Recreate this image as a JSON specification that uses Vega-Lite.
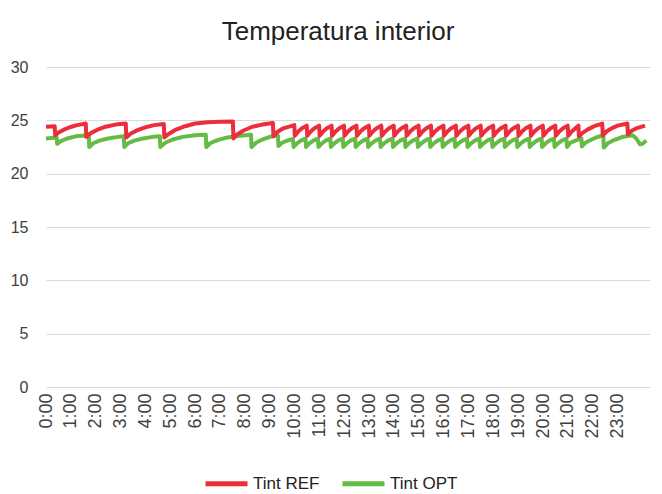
{
  "$schema": "https://vega.github.io/schema/vega-lite/v6.json",
  "width": 604,
  "height": 320,
  "autosize": {"type": "none"},
  "padding": {"left": 46, "top": 67, "right": 12, "bottom": 107},
  "background": "white",
  "title": {"text": "Temperatura interior", "fontSize": 26, "font": "Liberation Sans", "fontWeight": "normal", "color": "#222222", "anchor": "middle", "offset": 14, "dx": -10},
  "config": {
    "view": {"stroke": null},
    "axis": {"labelFont": "Liberation Sans", "labelColor": "#404040", "domain": false, "ticks": false, "title": null}
  },
  "datasets": {
    "ref": [
      {"h":0,"v":24.4},{"h":0.35,"v":24.45},{"h":0.37,"v":23.6},{"h":0.5,"v":23.85},{"h":0.7,"v":24.1},{"h":0.95,"v":24.35},{"h":1.25,"v":24.55},{"h":1.6,"v":24.7},
      {"h":1.62,"v":23.45},{"h":1.8,"v":23.8},{"h":2.05,"v":24.1},{"h":2.4,"v":24.4},{"h":2.8,"v":24.6},{"h":3.21,"v":24.7},
      {"h":3.23,"v":23.4},{"h":3.4,"v":23.75},{"h":3.65,"v":24.05},{"h":4.0,"v":24.35},{"h":4.35,"v":24.55},{"h":4.74,"v":24.65},
      {"h":4.76,"v":23.4},{"h":4.95,"v":23.75},{"h":5.2,"v":24.1},{"h":5.6,"v":24.45},{"h":6.0,"v":24.7},{"h":6.5,"v":24.82},{"h":7.0,"v":24.87},{"h":7.52,"v":24.9},
      {"h":7.54,"v":23.3},{"h":7.7,"v":23.7},{"h":7.95,"v":24.05},{"h":8.3,"v":24.4},{"h":8.7,"v":24.6},{"h":9.13,"v":24.75},
      {"h":9.15,"v":23.5},{"h":9.3,"v":23.9},{"h":9.55,"v":24.25},{"h":9.99,"v":24.55},
      {"h":10.01,"v":23.55},{"h":10.15,"v":23.95},{"h":10.3,"v":24.25},{"h":10.49,"v":24.5},
      {"h":10.51,"v":23.55},{"h":10.65,"v":23.95},{"h":10.8,"v":24.25},{"h":10.99,"v":24.5},
      {"h":11.01,"v":23.55},{"h":11.15,"v":23.95},{"h":11.3,"v":24.25},{"h":11.49,"v":24.5},
      {"h":11.51,"v":23.55},{"h":11.65,"v":23.95},{"h":11.8,"v":24.25},{"h":11.99,"v":24.5},
      {"h":12.01,"v":23.55},{"h":12.15,"v":23.95},{"h":12.3,"v":24.25},{"h":12.49,"v":24.5},
      {"h":12.51,"v":23.55},{"h":12.65,"v":23.95},{"h":12.8,"v":24.25},{"h":12.99,"v":24.5},
      {"h":13.01,"v":23.55},{"h":13.15,"v":23.95},{"h":13.3,"v":24.25},{"h":13.49,"v":24.5},
      {"h":13.51,"v":23.55},{"h":13.65,"v":23.95},{"h":13.8,"v":24.25},{"h":13.99,"v":24.5},
      {"h":14.01,"v":23.55},{"h":14.15,"v":23.95},{"h":14.3,"v":24.25},{"h":14.49,"v":24.5},
      {"h":14.51,"v":23.55},{"h":14.65,"v":23.95},{"h":14.8,"v":24.25},{"h":14.99,"v":24.5},
      {"h":15.01,"v":23.55},{"h":15.15,"v":23.95},{"h":15.3,"v":24.25},{"h":15.49,"v":24.5},
      {"h":15.51,"v":23.55},{"h":15.65,"v":23.95},{"h":15.8,"v":24.25},{"h":15.99,"v":24.5},
      {"h":16.01,"v":23.55},{"h":16.15,"v":23.95},{"h":16.3,"v":24.25},{"h":16.49,"v":24.5},
      {"h":16.51,"v":23.55},{"h":16.65,"v":23.95},{"h":16.8,"v":24.25},{"h":16.99,"v":24.5},
      {"h":17.01,"v":23.55},{"h":17.15,"v":23.95},{"h":17.3,"v":24.25},{"h":17.49,"v":24.5},
      {"h":17.51,"v":23.55},{"h":17.65,"v":23.95},{"h":17.8,"v":24.25},{"h":17.99,"v":24.5},
      {"h":18.01,"v":23.55},{"h":18.15,"v":23.95},{"h":18.3,"v":24.25},{"h":18.49,"v":24.5},
      {"h":18.51,"v":23.55},{"h":18.65,"v":23.95},{"h":18.8,"v":24.25},{"h":18.99,"v":24.5},
      {"h":19.01,"v":23.55},{"h":19.15,"v":23.95},{"h":19.3,"v":24.25},{"h":19.49,"v":24.5},
      {"h":19.51,"v":23.55},{"h":19.65,"v":23.95},{"h":19.8,"v":24.25},{"h":19.99,"v":24.5},
      {"h":20.01,"v":23.55},{"h":20.15,"v":23.95},{"h":20.3,"v":24.25},{"h":20.49,"v":24.5},
      {"h":20.51,"v":23.55},{"h":20.65,"v":23.95},{"h":20.8,"v":24.25},{"h":20.99,"v":24.5},
      {"h":21.01,"v":23.55},{"h":21.15,"v":23.95},{"h":21.3,"v":24.25},{"h":21.42,"v":24.5},
      {"h":21.44,"v":23.5},{"h":21.6,"v":23.85},{"h":21.8,"v":24.15},{"h":22.05,"v":24.45},{"h":22.38,"v":24.7},
      {"h":22.4,"v":23.6},{"h":22.55,"v":23.95},{"h":22.75,"v":24.25},{"h":23.0,"v":24.5},{"h":23.39,"v":24.7},
      {"h":23.41,"v":23.7},{"h":23.55,"v":24.0},{"h":23.75,"v":24.25},{"h":24.1,"v":24.5}
    ],
    "opt": [
      {"h":0,"v":23.3},{"h":0.43,"v":23.4},{"h":0.45,"v":22.8},{"h":0.6,"v":23.05},{"h":0.85,"v":23.3},{"h":1.2,"v":23.5},{"h":1.72,"v":23.6},
      {"h":1.74,"v":22.5},{"h":1.9,"v":22.85},{"h":2.15,"v":23.1},{"h":2.5,"v":23.3},{"h":2.9,"v":23.45},{"h":3.13,"v":23.5},
      {"h":3.15,"v":22.5},{"h":3.3,"v":22.85},{"h":3.55,"v":23.1},{"h":3.9,"v":23.3},{"h":4.3,"v":23.45},{"h":4.58,"v":23.5},
      {"h":4.6,"v":22.5},{"h":4.8,"v":22.9},{"h":5.1,"v":23.2},{"h":5.5,"v":23.45},{"h":6.0,"v":23.6},{"h":6.43,"v":23.65},
      {"h":6.45,"v":22.5},{"h":6.6,"v":22.85},{"h":6.9,"v":23.15},{"h":7.3,"v":23.4},{"h":7.8,"v":23.55},{"h":8.25,"v":23.65},
      {"h":8.27,"v":22.5},{"h":8.45,"v":22.9},{"h":8.7,"v":23.2},{"h":9.0,"v":23.45},{"h":9.33,"v":23.6},
      {"h":9.35,"v":22.6},{"h":9.5,"v":22.9},{"h":9.7,"v":23.1},{"h":9.94,"v":23.25},
      {"h":9.96,"v":22.5},{"h":10.1,"v":22.85},{"h":10.25,"v":23.1},{"h":10.44,"v":23.3},
      {"h":10.46,"v":22.5},{"h":10.6,"v":22.85},{"h":10.75,"v":23.1},{"h":10.94,"v":23.3},
      {"h":10.96,"v":22.5},{"h":11.1,"v":22.85},{"h":11.25,"v":23.1},{"h":11.44,"v":23.3},
      {"h":11.46,"v":22.5},{"h":11.6,"v":22.85},{"h":11.75,"v":23.1},{"h":11.94,"v":23.3},
      {"h":11.96,"v":22.5},{"h":12.1,"v":22.85},{"h":12.25,"v":23.1},{"h":12.44,"v":23.3},
      {"h":12.46,"v":22.5},{"h":12.6,"v":22.85},{"h":12.75,"v":23.1},{"h":12.94,"v":23.3},
      {"h":12.96,"v":22.5},{"h":13.1,"v":22.85},{"h":13.25,"v":23.1},{"h":13.44,"v":23.3},
      {"h":13.46,"v":22.5},{"h":13.6,"v":22.85},{"h":13.75,"v":23.1},{"h":13.94,"v":23.3},
      {"h":13.96,"v":22.5},{"h":14.1,"v":22.85},{"h":14.25,"v":23.1},{"h":14.44,"v":23.3},
      {"h":14.46,"v":22.5},{"h":14.6,"v":22.85},{"h":14.75,"v":23.1},{"h":14.94,"v":23.3},
      {"h":14.96,"v":22.5},{"h":15.1,"v":22.85},{"h":15.25,"v":23.1},{"h":15.44,"v":23.3},
      {"h":15.46,"v":22.5},{"h":15.6,"v":22.85},{"h":15.75,"v":23.1},{"h":15.94,"v":23.3},
      {"h":15.96,"v":22.5},{"h":16.1,"v":22.85},{"h":16.25,"v":23.1},{"h":16.44,"v":23.3},
      {"h":16.46,"v":22.5},{"h":16.6,"v":22.85},{"h":16.75,"v":23.1},{"h":16.94,"v":23.3},
      {"h":16.96,"v":22.5},{"h":17.1,"v":22.85},{"h":17.25,"v":23.1},{"h":17.44,"v":23.3},
      {"h":17.46,"v":22.5},{"h":17.6,"v":22.85},{"h":17.75,"v":23.1},{"h":17.94,"v":23.3},
      {"h":17.96,"v":22.5},{"h":18.1,"v":22.85},{"h":18.25,"v":23.1},{"h":18.44,"v":23.3},
      {"h":18.46,"v":22.5},{"h":18.6,"v":22.85},{"h":18.75,"v":23.1},{"h":18.94,"v":23.3},
      {"h":18.96,"v":22.5},{"h":19.1,"v":22.85},{"h":19.25,"v":23.1},{"h":19.44,"v":23.3},
      {"h":19.46,"v":22.5},{"h":19.6,"v":22.85},{"h":19.75,"v":23.1},{"h":19.94,"v":23.3},
      {"h":19.96,"v":22.5},{"h":20.1,"v":22.85},{"h":20.25,"v":23.1},{"h":20.44,"v":23.3},
      {"h":20.46,"v":22.5},{"h":20.6,"v":22.85},{"h":20.75,"v":23.1},{"h":20.94,"v":23.3},
      {"h":20.96,"v":22.5},{"h":21.1,"v":22.9},{"h":21.3,"v":23.1},{"h":21.54,"v":23.3},
      {"h":21.56,"v":22.55},{"h":21.7,"v":22.9},{"h":21.95,"v":23.2},{"h":22.2,"v":23.45},{"h":22.42,"v":23.6},
      {"h":22.44,"v":22.45},{"h":22.6,"v":22.85},{"h":22.85,"v":23.15},{"h":23.2,"v":23.45},{"h":23.6,"v":23.6},{"h":23.75,"v":23.3},{"h":23.9,"v":22.75},{"h":24.0,"v":22.8},{"h":24.15,"v":23.1}
    ]
  },
  "encoding": {
    "x": {
      "field": "h", "type": "quantitative",
      "scale": {"domain": [0, 24.3], "nice": false, "zero": false},
      "axis": {"values": [0,1,2,3,4,5,6,7,8,9,10,11,12,13,14,15,16,17,18,19,20,21,22,23], "labelExpr": "datum.value + ':00'", "labelAngle": -90, "grid": false, "labelFontSize": 18, "labelPadding": 6, "labelFlush": false, "labelOverlap": false}
    },
    "y": {
      "field": "v", "type": "quantitative",
      "scale": {"domain": [0, 30], "nice": false},
      "axis": {"values": [0,5,10,15,20,25,30], "grid": true, "gridColor": "#d9d9d9", "gridWidth": 1.2, "labelFontSize": 16, "labelPadding": 18}
    }
  },
  "layer": [
    {
      "data": {"name": "opt"},
      "mark": {"type": "line", "strokeWidth": 4, "strokeJoin": "round"},
      "encoding": {"color": {"datum": "Tint OPT", "type": "nominal"}}
    },
    {
      "data": {"name": "ref"},
      "mark": {"type": "line", "strokeWidth": 4, "strokeJoin": "round"},
      "encoding": {
        "color": {
          "datum": "Tint REF", "type": "nominal",
          "scale": {"domain": ["Tint REF", "Tint OPT"], "range": ["#ec2d3a", "#66bb44"]},
          "legend": {"orient": "none", "legendX": 157, "legendY": 393, "direction": "horizontal", "symbolType": "stroke", "symbolStrokeWidth": 5, "symbolSize": 1764, "labelFontSize": 17, "labelFont": "Liberation Sans", "labelColor": "#222222", "title": null, "columnPadding": 12, "labelOffset": 3}
        }
      }
    }
  ]
}
